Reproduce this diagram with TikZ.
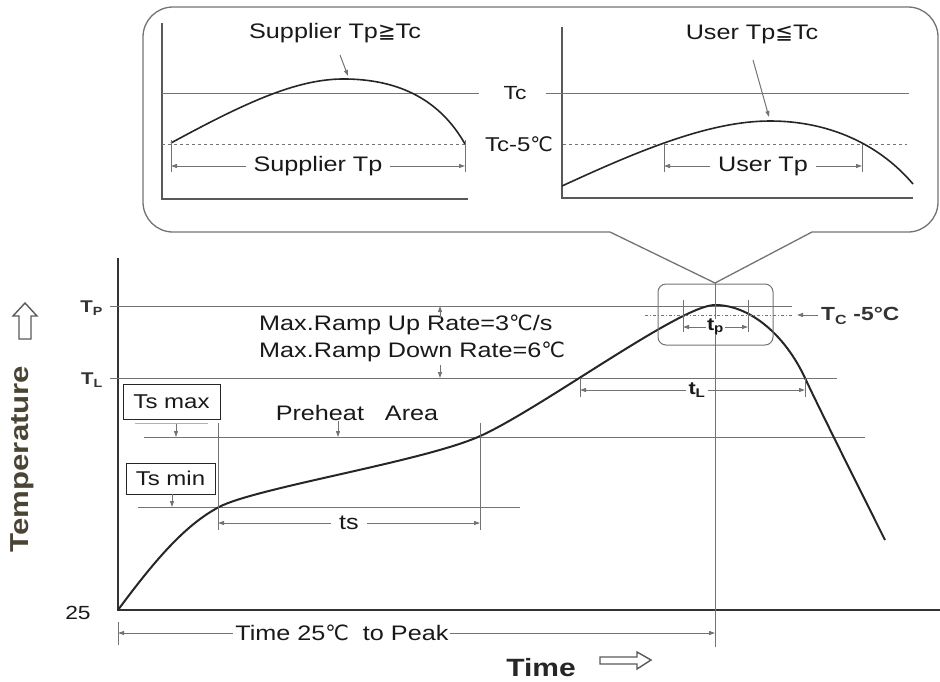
\documentclass[tikz,border=0pt]{standalone}
\usepackage{fontspec}
\setmainfont{Liberation Sans}[FakeStretch=1.2]
\newfontfamily\symfam{DejaVu Sans}
\newcommand{\degC}{{\symfam ℃}}
\usetikzlibrary{arrows.meta}
\definecolor{tempcol}{HTML}{4A4434}

\begin{document}
\begin{tikzpicture}[x=1pt,y=-1pt,
	thinline/.style={draw=black!55, line width=1pt},
	axis/.style={draw=black!80, line width=2.5pt},
	inaxis/.style={draw=black!65, line width=1.6pt},
	curve/.style={draw=black!85, line width=2pt, line join=round},
	dim/.style={thinline, {Triangle[length=6pt,width=4pt]}-{Triangle[length=6pt,width=4pt]}},
	tick/.style={thinline, -{Triangle[length=6pt,width=4pt]}},
	hollowarr/.style={draw=black!65, line width=1.4pt, line join=miter},
	lbl/.style={font=\fontsize{21}{27}\selectfont, text=black!90, inner sep=1pt},
	dimlbl/.style={lbl, fill=white, inner xsep=8pt},
	sym/.style={font=\bfseries\fontsize{17}{19}\selectfont, text=black!80, inner sep=1pt},
	boxed/.style={draw=black!85, line width=1pt, text=black!90, inner sep=0pt,
		font=\fontsize{20}{24}\selectfont}]

\useasboundingbox (0,0) rectangle (940,681);

% callout
\coordinate (apex) at (715,283);
\coordinate (bl) at (610,232);
\coordinate (br) at (812,232);
\draw[thinline, line width=1.3pt] (apex) -- (bl) [rounded corners=30] -- (143,232) -- (143,7)
	-- (938,7) -- (938,232) [sharp corners] -- (br) -- cycle;

% supplier inset
\draw[inaxis] (162,23) -- (162,199) -- (468,199);
\draw[thinline] (162,93) -- (479,93);
\draw[thinline, dashed] (162,144) -- (465,144);
\coordinate (supPk) at (347,79);
\draw[curve, line width=1.6pt] (171,143) .. controls (250,100) and (300,78) .. (supPk)
	.. controls (400,80) and (440,100) .. (465,144);
\coordinate (sa) at (171,166);
\coordinate (sb) at (465,166);
\draw[thinline] (171,140) -- (171,172) (465,140) -- (465,172);
\draw[dim] (sa) -- node[dimlbl] (supTp) {Supplier Tp} (sb);
\node[lbl] (supTitle) at (335,33) {Supplier Tp{\symfam ≧}Tc};
\draw[tick] (340,55) -- (348,76);
\node[lbl, font=\fontsize{19}{23}\selectfont] (tcLbl) at (515,93) {Tc};
\node[lbl, font=\fontsize{20}{24}\selectfont] (tc5Lbl) at (519,144) {Tc-5\degC};

% user inset
\draw[inaxis] (562,27) -- (562,198) -- (913,198);
\draw[thinline] (546,93) -- (909,93);
\draw[thinline, dashed] (563,144) -- (907,144);
\coordinate (usrPk) at (770,121);
\draw[curve, line width=1.6pt] (562,186) .. controls (640,150) and (710,121) .. (usrPk)
	.. controls (830,121) and (880,145) .. (913,184);
\coordinate (ua) at (664,166);
\coordinate (ub) at (862,166);
\draw[thinline] (664,144) -- (664,172) (862,144) -- (862,172);
\draw[dim] (ua) -- node[dimlbl] (usrTp) {User Tp} (ub);
\node[lbl] (usrTitle) at (752,34) {User Tp{\symfam ≦}Tc};
\draw[tick] (753,60) -- (769,117);

% main axes
\coordinate (O) at (118,610);
\draw[axis] (118,258) -- (O) -- (940,610);
\node[lbl, font=\fontsize{19}{23}\selectfont] (t25) at (78,613) {25};

% levels
\draw[thinline] (110,306) -- (792,306);
\draw[thinline] (110,378) -- (837,378);
\draw[thinline] (144,437) -- (865,437);
\draw[thinline] (138,507) -- (520,507);
\node[sym, anchor=east] (lblTp) at (104,308) {T\textsubscript{P}};
\node[sym, anchor=east] (lblTl) at (104,380) {T\textsubscript{L}};

% profile
\coordinate (smin) at (219,507);
\coordinate (smax) at (478,437);
\coordinate (pk) at (715,305);
\coordinate (ldn) at (805,378);
\draw[curve] (O) .. controls (155,560) and (185,525) .. (smin)
	.. controls (255,488) and (420,462) .. (smax)
	.. controls (538,411) and (680,305) .. (pk)
	.. controls (750,305) and (785,335) .. (ldn)
	.. controls (818,406) and (860,490) .. (885,540);

% ramp rates
\node[lbl, anchor=west, align=left] (ramp) at (258,338)
	{Max.Ramp Up Rate=3\degC/s\\Max.Ramp Down Rate=6\degC};
\draw[tick] (440,318) -- (440,306);
\draw[tick] (440,365) -- (440,378);

% soak
\node[boxed, minimum width=97, minimum height=35] (tsmax) at (171.5,401.5) {Ts max};
\draw[draw=black!30, line width=1pt] (135,423) -- (208,423);
\draw[tick] (176,424) -- (176,437);
\node[boxed, minimum width=89, minimum height=31] (tsmin) at (170.5,478.5) {Ts min};
\draw[tick] (172,494) -- (172,507);
\node[lbl] (preheat) at (357,413) {Preheat\hspace*{14pt} Area};
\draw[tick] (338,421) -- (338,437);
\coordinate (s1) at (218,523);
\coordinate (s2) at (480,523);
\draw[thinline] (218,423) -- (218,530) (480,423) -- (480,530);
\draw[dim] (s1) -- node[dimlbl] (tsLbl) {ts} (s2);

% liquidus and peak
\coordinate (l1) at (580,390);
\coordinate (l2) at (805,390);
\draw[thinline] (580,378) -- (580,397) (805,378) -- (805,397);
\draw[dim] (l1) -- node[lbl, fill=white, inner xsep=3pt, font=\bfseries\fontsize{18}{20}\selectfont, pos=0.52]
	(tlLbl) {t\textsubscript{L}} (l2);
\draw[thinline] (apex) -- (715,647);
\draw[thinline, rounded corners=8] (658,284) rectangle (773,345);
\draw[thinline, dash dot] (645,315) -- (793,315);
\coordinate (tcTip) at (797,315);
\draw[tick] (818,315) -- (tcTip);
\node[lbl, anchor=west, font=\bfseries\fontsize{19}{22}\selectfont, text=black!80] (tc5Main) at (820,316)
	{T\textsubscript{C} -5°C};
\coordinate (p1) at (683,327);
\coordinate (p2) at (748,327);
\draw[thinline] (683,300) -- (683,332) (748,300) -- (748,332);
\draw[dim] (p1) -- node[lbl, fill=white, inner xsep=1pt, inner ysep=0pt, font=\bfseries\fontsize{18}{20}\selectfont]
	(tpLbl) {t\textsubscript{p}} (p2);

% time to peak
\coordinate (k1) at (118,633);
\coordinate (k2) at (715,633);
\draw[thinline] (118,622) -- (118,645);
\draw[dim] (k1) -- node[dimlbl, inner xsep=2pt, pos=0.375] (ttp) {Time 25\degC\ \ to Peak} (k2);

% axis titles
\node[font=\bfseries\fontsize{25}{28}\selectfont, text=black!85, anchor=base, inner sep=0pt] (timeLbl) at (541,676) {Time};
\draw[hollowarr] (600,657) -- (637,657) -- (637,652) -- (651,660) -- (637,669) -- (637,664) -- (600,664) -- cycle;
\node[font=\bfseries\fontsize{26}{28}\selectfont, text=tempcol, rotate=90] (tempLbl) at (22,459) {Temperature};
\draw[hollowarr] (19,339) -- (19,316) -- (13,316) -- (25,303) -- (37,316) -- (31,316) -- (31,339) -- cycle;

\end{tikzpicture}
\end{document}
